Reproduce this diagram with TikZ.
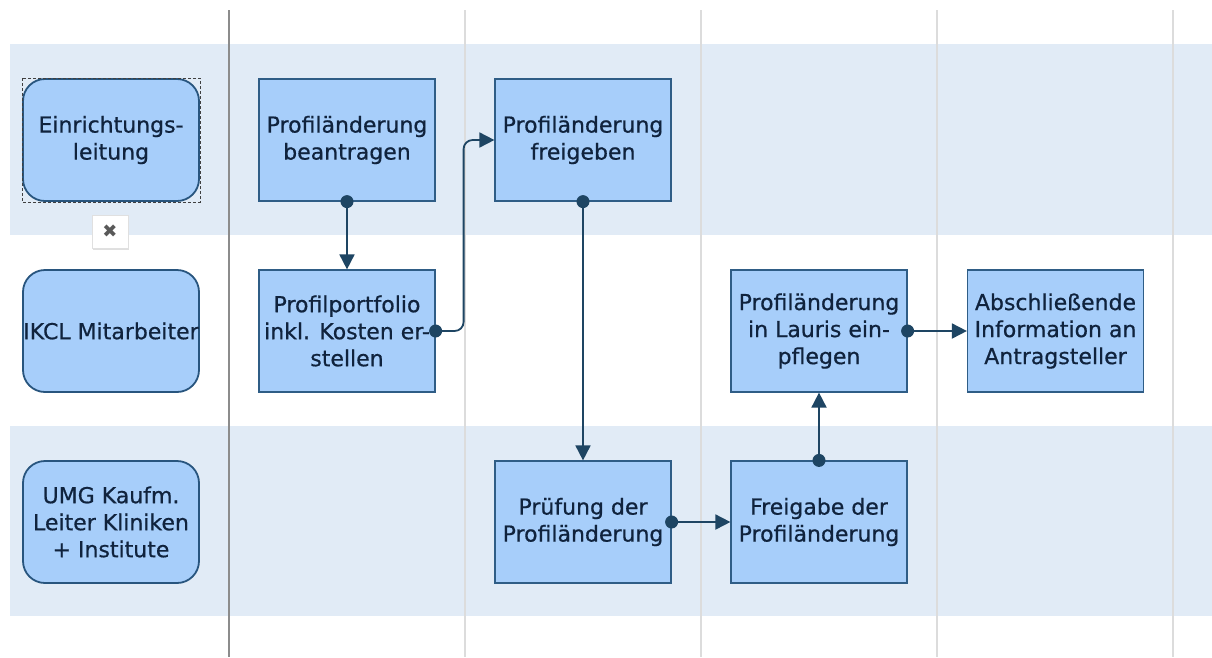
\documentclass[tikz,border=0pt]{standalone}
\usepackage{fontspec}
\setmainfont{DejaVu Sans}[FakeBold=0.6]
\newfontfamily\symfont{DejaVu Sans}
\usetikzlibrary{arrows.meta,calc,shadows}
\definecolor{band}{HTML}{E1EBF6}
\definecolor{boxfill}{HTML}{A7CEFA}
\definecolor{boxline}{HTML}{2F5D86}
\definecolor{roleline}{HTML}{28557E}
\definecolor{conncol}{HTML}{1E4563}
\definecolor{txt}{HTML}{10233D}
\definecolor{sepdark}{HTML}{8C8C8C}
\definecolor{seplight}{HTML}{DCDCDC}
\tikzset{
  role/.style={draw=roleline, line width=1.8pt, fill=boxfill, rounded corners=22pt,
    minimum width=176pt, minimum height=122pt, inner sep=0pt, align=center,
    text=txt, font=\fontsize{22}{27}\selectfont},
  task/.style={draw=boxline, line width=1.2pt, fill=boxfill,
    minimum width=176pt, minimum height=122pt, inner sep=0pt, align=center,
    text=txt, font=\fontsize{22}{27}\selectfont},
  conn/.style={draw=conncol, line width=1.8pt, -{Triangle[length=15pt,width=15pt]}},
  dot/.style={fill=conncol},
}
\begin{document}
\begin{tikzpicture}[x=1pt,y=-1pt]
\useasboundingbox (0,0) rectangle (1212,657);
\fill[white] (0,0) rectangle (1212,657);
% bands
\fill[band] (10,44) rectangle (1212,235);
\fill[band] (10,426) rectangle (1212,616);
% separators
\draw[seplight, line width=1.2pt] (465,10) -- (465,657);
\draw[seplight, line width=1.2pt] (701,10) -- (701,657);
\draw[seplight, line width=1.2pt] (937,10) -- (937,657);
\draw[seplight, line width=1.2pt] (1173,10) -- (1173,657);
\draw[sepdark, line width=1.5pt] (229,10) -- (229,657);
% roles
\node[role] (R1) at (111,140) {Einrichtungs-\\leitung};
\node[role] (R2) at (111,331) {IKCL Mitarbeiter};
\node[role] (R3) at (111,522) {UMG Kaufm.\\Leiter Kliniken\\+ Institute};
\draw[black!75, line width=1pt, dash pattern=on 3pt off 2pt] (22,78) rectangle (200,202);
\node[draw=black!12, fill=white, drop shadow={opacity=0.25, shadow xshift=1pt, shadow yshift=-1.5pt},
  minimum width=36pt, minimum height=33pt, inner sep=0pt, text=black!65,
  font=\symfont\fontsize{18}{18}\selectfont] (X) at (110,231.5) {✖};
% tasks
\node[task] (A) at (347,140) {Profiländerung\\beantragen};
\node[task] (B) at (583,140) {Profiländerung\\freigeben};
\node[task] (C) at (347,331) {Profilportfolio\\inkl. Kosten er-\\stellen};
\node[task] (D) at (819,331) {Profiländerung\\in Lauris ein-\\pflegen};
\node[task] (E) at (1055.5,331) {Abschließende\\Information an\\Antragsteller};
\node[task] (F) at (583,522) {Prüfung der\\Profiländerung};
\node[task] (G) at (819,522) {Freigabe der\\Profiländerung};
% connectors
\draw[conn] (A.south) -- (C.north);
\draw[conn, rounded corners=9pt] (C.east) -- ++(28,0) |- (B.west);
\draw[conn] (B.south) -- (F.north);
\draw[conn] (F.east) -- (G.west);
\draw[conn] (G.north) -- (D.south);
\draw[conn] (D.east) -- (E.west);
\foreach \p in {A.south, C.east, B.south, F.east, G.north, D.east}
  \fill[dot] (\p) circle (6.5pt);
\end{tikzpicture}
\end{document}
